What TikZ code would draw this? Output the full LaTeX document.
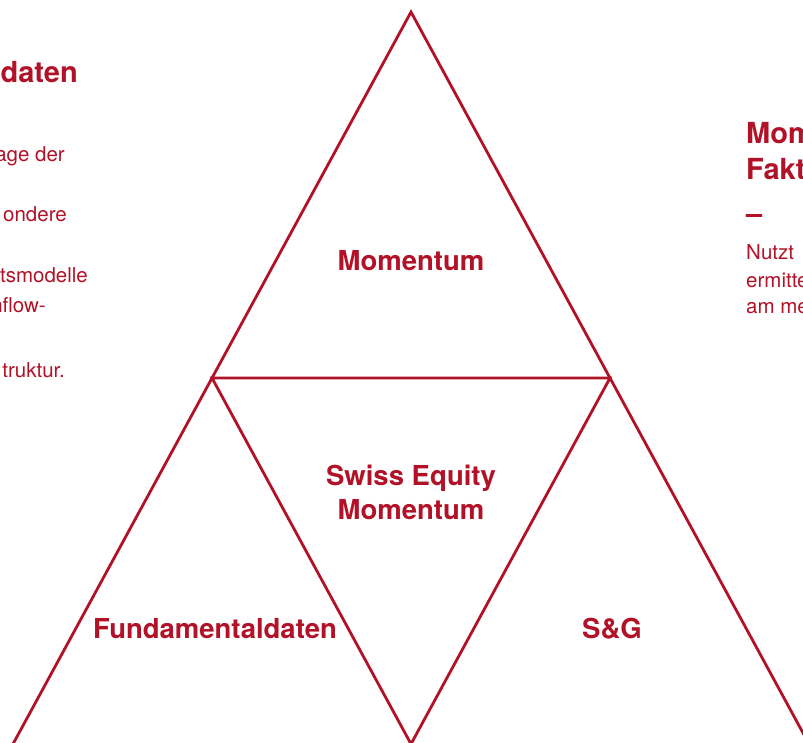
\documentclass[tikz,border=0pt]{standalone}
\usepackage{fontspec}
\setmainfont{TeX Gyre Heros}
\usepackage{tikz}
\usetikzlibrary{positioning,calc}
\definecolor{brandred}{RGB}{178,18,40}

\begin{document}
\begin{tikzpicture}[
    x=1pt, y=-1pt,
    frame/.style={draw=brandred, line width=2.8pt, line join=miter},
    tag/.style={text=brandred, inner sep=0pt, align=center, font=\fontsize{27.5}{34}\selectfont\bfseries},
    heading/.style={text=brandred, inner sep=0pt, font=\fontsize{29}{36}\selectfont\bfseries},
    body/.style={text=brandred, inner sep=0pt, font=\fontsize{20.5}{27}\selectfont}
]
    \useasboundingbox (0,0) rectangle (803,742);

    % corners of the big triangle and of the inner one
    \coordinate (apex) at (411,12);
    \coordinate (midL) at (212,378);
    \coordinate (midR) at (610,378);
    \coordinate (baseL) at (13,744);
    \coordinate (baseR) at (809,744);
    \coordinate (baseM) at (411,744);

    \draw[frame] (baseL) -- (apex) -- (baseR);
    \draw[frame] (midL) -- (midR) -- (baseM) -- cycle;

    \node[tag, anchor=base] (mom) at (411,270) {Momentum};
    \node[tag] (sem) at (411,492) {Swiss Equity\\Momentum};
    \node[tag, anchor=base] (fund) at (215,638) {Fundamentaldaten};
    \node[tag, anchor=base] (sg) at (612,638) {S\&G};

    % text running off the left edge
    \node[heading, anchor=base east] (lhead) at (78,82) {daten};
    \node[body, anchor=base east] (lline1) at (65,161) {age der};
    \node[body, anchor=base east] (lline2) at (67,221) {ondere};
    \node[body, anchor=base east] (lline3) at (88,282) {tsmodelle};
    \node[body, anchor=base east] (lline4) at (46,312) {nflow-};
    \node[body, anchor=base east] (lline5) at (65,377) {truktur.};

    % text running off the right edge
    \node[heading, anchor=base west] (rhead1) at (746,143) {Mom};
    \node[heading, anchor=base west] (rhead2) at (746,179) {Fakt};
    \node[heading, anchor=base west] (rdash) at (746,223) {--};
    \node[body, anchor=base west] (rline1) at (746,259) {Nutzt};
    \node[body, anchor=base west] (rline2) at (746,287) {ermitte};
    \node[body, anchor=base west] (rline3) at (746,313) {am me};
\end{tikzpicture}
\end{document}
